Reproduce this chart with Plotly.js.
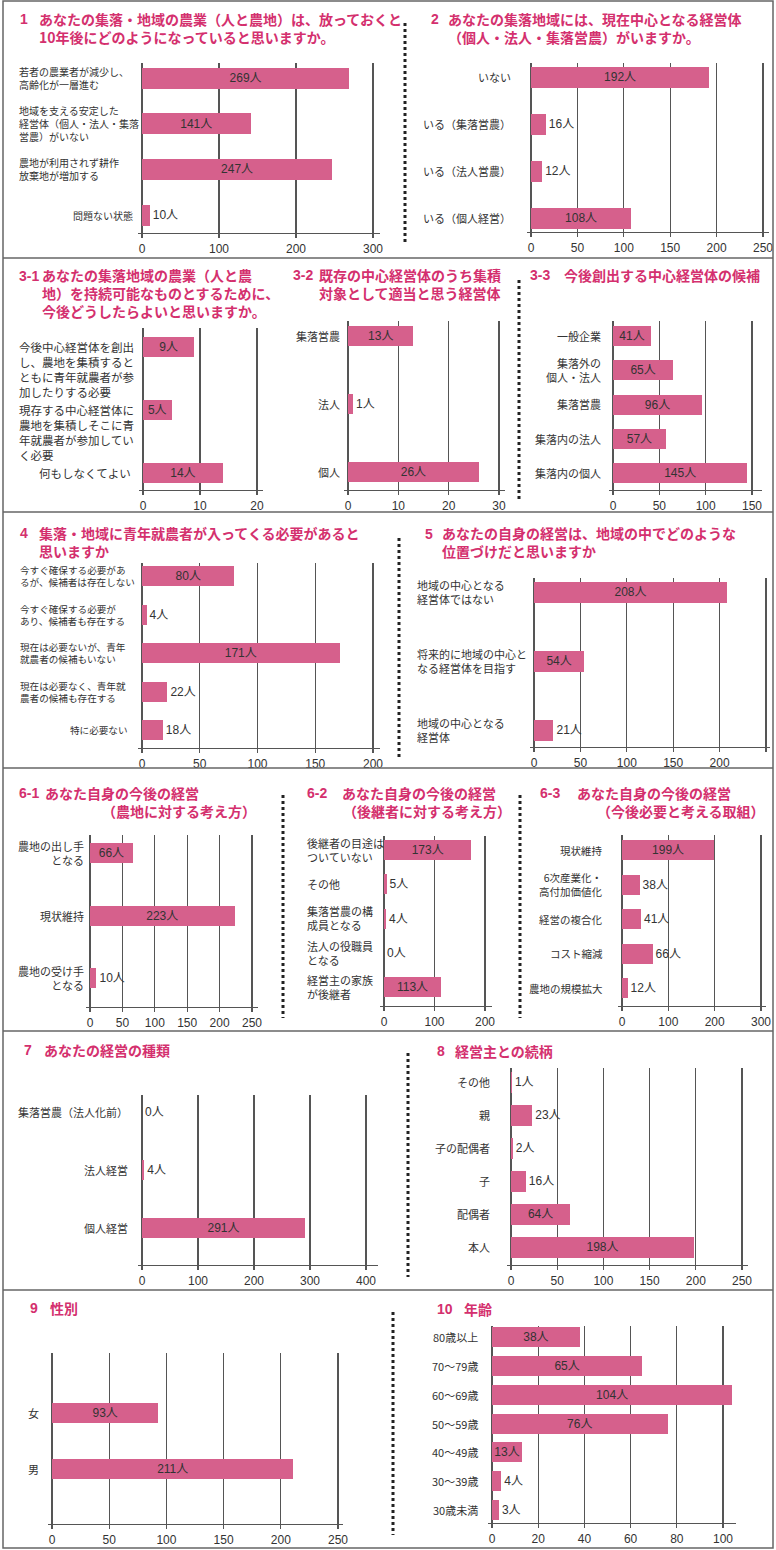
<!DOCTYPE html>
<html><head><meta charset="utf-8">
<script src="https://cdn.plot.ly/plotly-3.0.1.min.js"></script>
<style>body{margin:0;background:#fff}#chart{width:776px;height:1550px}</style>
</head><body><div id="chart"></div>
<script>
// ---------------- data ----------------
const q1Categories = ['若者の農業者が減少し、<br>高齢化が一層進む', '地域を支える安定した<br>経営体（個人・法人・集落<br>営農）がいない', '農地が利用されず耕作<br>放棄地が増加する', '問題ない状態'];
const q1Values = [269, 141, 247, 10];
const q2Categories = ['いない', 'いる（集落営農）', 'いる（法人営農）', 'いる（個人経営）'];
const q2Values = [192, 16, 12, 108];
const q31Categories = ['今後中心経営体を創出<br>し、農地を集積すると<br>ともに青年就農者が参<br>加したりする必要', '現存する中心経営体に<br>農地を集積しそこに青<br>年就農者が参加してい<br>く必要', '何もしなくてよい'];
const q31Values = [9, 5, 14];
const q32Categories = ['集落営農', '法人', '個人'];
const q32Values = [13, 1, 26];
const q33Categories = ['一般企業', '集落外の<br>個人・法人', '集落営農', '集落内の法人', '集落内の個人'];
const q33Values = [41, 65, 96, 57, 145];
const q4Categories = ['今すぐ確保する必要があ<br>るが、候補者は存在しない', '今すぐ確保する必要が<br>あり、候補者も存在する', '現在は必要ないが、青年<br>就農者の候補もいない', '現在は必要なく、青年就<br>農者の候補も存在する', '特に必要ない'];
const q4Values = [80, 4, 171, 22, 18];
const q5Categories = ['地域の中心となる<br>経営体ではない', '将来的に地域の中心と<br>なる経営体を目指す', '地域の中心となる<br>経営体'];
const q5Values = [208, 54, 21];
const q61Categories = ['農地の出し手<br>となる', '現状維持', '農地の受け手<br>となる'];
const q61Values = [66, 223, 10];
const q62Categories = ['後継者の目途は<br>ついていない', 'その他', '集落営農の構<br>成員となる', '法人の役職員<br>となる', '経営主の家族<br>が後継者'];
const q62Values = [173, 5, 4, 0, 113];
const q63Categories = ['現状維持', '6次産業化・<br>高付加価値化', '経営の複合化', 'コスト縮減', '農地の規模拡大'];
const q63Values = [199, 38, 41, 66, 12];
const q7Categories = ['集落営農（法人化前）', '法人経営', '個人経営'];
const q7Values = [0, 4, 291];
const q8Categories = ['その他', '親', '子の配偶者', '子', '配偶者', '本人'];
const q8Values = [1, 23, 2, 16, 64, 198];
const q9Categories = ['女', '男'];
const q9Values = [93, 211];
const q10Categories = ['80歳以上', '70〜79歳', '60〜69歳', '50〜59歳', '40〜49歳', '30〜39歳', '30歳未満'];
const q10Values = [38, 65, 104, 76, 13, 4, 3];
const valueUnit = '人';

// ---------------- style / layout config ----------------
const W = 776, H = 1550;
const BAR = '#d6608c', TITLE = '#d4306e', INK = '#333', GRID = '#555';
const FONT = '"Noto Sans CJK JP", "Noto Sans", sans-serif';
const NUMFONT = '"Liberation Sans", "Noto Sans CJK JP", sans-serif';
const px = x => x / W, py = y => 1 - y / H;

const panels = [
  {cats: q1Categories, vals: q1Values, inside: [1,1,1,0],
   g: {zero:142, tick:373, tmax:300, dtick:100, end:380, top:63, axisY:233, c0:78, c1:215, bar:21, lr:135, ll:17, mode:'mixed', ls:10},
   num: ['1',18,19],
   title: [['あなたの集落・地域の農業（人と農地）は、放っておくと<br>10年後にどのようになっていると思いますか。',37,28]]},
  {cats: q2Categories, vals: q2Values, inside: [1,0,0,1],
   g: {zero:531, tick:763, tmax:250, dtick:50, end:769, top:63, axisY:232, c0:77, c1:218, bar:21, lr:513, mode:'right', ls:11},
   num: ['2',429,19],
   title: [['あなたの集落地域には、現在中心となる経営体<br>（個人・法人・集落営農）がいますか。',446,28]]},
  {cats: q31Categories, vals: q31Values, inside: [1,1,1],
   g: {zero:143, tick:257, tmax:20, dtick:10, end:263, top:328, axisY:490, c0:347, c1:473, bar:20, lr:133, ll:17, mode:'mixed', ls:11.5, valign:'top'},
   num: ['3-1',17,276],
   title: [['あなたの集落地域の農業（人と農<br>地）を持続可能なものとするために、<br>今後どうしたらよいと思いますか。',40,293]]},
  {cats: q32Categories, vals: q32Values, inside: [1,0,1],
   g: {zero:348, tick:499, tmax:30, dtick:10, end:505, top:321, axisY:490, c0:336, c1:472, bar:20, lr:342, mode:'right', ls:11},
   num: ['3-2',291,275],
   title: [['既存の中心経営体のうち集積<br>対象として適当と思う経営体',317,284]]},
  {cats: q33Categories, vals: q33Values, inside: [1,1,1,1,1],
   g: {zero:613, tick:752, tmax:150, dtick:50, end:762, top:321, axisY:490, c0:336, c1:473, bar:20, lr:603, mode:'right', ls:11},
   num: ['3-3',528,275],
   title: [['今後創出する中心経営体の候補',562,275]]},
  {cats: q4Categories, vals: q4Values, inside: [1,0,1,0,0],
   g: {zero:142, tick:373, tmax:200, dtick:50, end:380, top:563, axisY:748, c0:576, c1:730, bar:20, lr:130, ll:18, mode:'mixed', ls:9.6},
   num: ['4',18,533],
   title: [['集落・地域に青年就農者が入ってくる必要があると<br>思いますか',37,542]]},
  {cats: q5Categories, vals: q5Values, inside: [1,1,0],
   g: {zero:534, tick:766, tmax:250, dtick:50, end:770, top:578, axisY:747, c0:592, c1:730, bar:21, lr:527, ll:415, mode:'left', ls:11},
   num: ['5',423,534],
   title: [['あなたの自身の経営は、地域の中でどのような<br>位置づけだと思いますか',440,542]]},
  {cats: q61Categories, vals: q61Values, inside: [1,1,0],
   g: {zero:90, tick:252, tmax:250, dtick:50, end:258, top:835, axisY:1007, c0:853, c1:978, bar:20, lr:86, mode:'right', ls:11},
   num: ['6-1',17,793],
   title: [['あなた自身の今後の経営',43,793],['（農地に対する考え方）',100,811]]},
  {cats: q62Categories, vals: q62Values, inside: [1,0,0,0,1],
   g: {zero:384, tick:485, tmax:200, dtick:100, end:492, top:836, axisY:1006, c0:850, c1:987, bar:20, ll:305, lr:378, mode:'left', ls:11},
   num: ['6-2',305,793],
   title: [['あなた自身の今後の経営',340,793],['（後継者に対する考え方）',341,811]]},
  {cats: q63Categories, vals: q63Values, inside: [1,0,0,0,0],
   g: {zero:622, tick:761, tmax:300, dtick:100, end:766, top:835, axisY:1006, c0:850, c1:988, bar:20, lr:605, mode:'right', ls:10.5},
   num: ['6-3',538,793],
   title: [['あなた自身の今後の経営',575,793],['（今後必要と考える取組）',595,811]]},
  {cats: q7Categories, vals: q7Values, inside: [0,0,1],
   g: {zero:142, tick:366, tmax:400, dtick:100, end:378, top:1095, axisY:1265, c0:1112, c1:1228, bar:20, lr:130, mode:'right', ls:11},
   num: ['7',22,1050],
   title: [['あなたの経営の種類',42,1050]]},
  {cats: q8Categories, vals: q8Values, inside: [0,0,0,0,1,1],
   g: {zero:511, tick:742, tmax:250, dtick:50, end:748, top:1068, gridTop:1093, axisY:1265, c0:1082, c1:1247, bar:21, lr:492, mode:'right', ls:11},
   num: ['8',435,1051],
   title: [['経営主との続柄',453,1051]]},
  {cats: q9Categories, vals: q9Values, inside: [1,1],
   g: {zero:52, tick:338, tmax:250, dtick:50, end:343, top:1353, axisY:1524, c0:1413, c1:1469, bar:20, lr:41, mode:'right', ls:11},
   num: ['9',28,1308],
   title: [['性別',48,1308]]},
  {cats: q10Categories, vals: q10Values, inside: [1,1,1,1,1,0,0],
   g: {zero:492, tick:723, tmax:100, dtick:20, end:736, top:1326, axisY:1523, c0:1337, c1:1510, bar:20, lr:480, mode:'right', ls:11},
   num: ['10',435,1309],
   title: [['年齢',462,1309]]}
];

// dotted separators [x, y0, y1] and solid row rules [y]
const dottedSeps = [[405,23,243],[519,280,502],[399,538,760],[283,795,1018],[520,795,1018],[408,1053,1277],[393,1312,1535]];
const rowRules = [258, 512, 768, 1031, 1290];

// ---------------- build ----------------
const traces = [], annotations = [], shapes = [];
const layout = {
  width: W, height: H, margin: {l:0, r:0, t:0, b:0},
  paper_bgcolor: '#ffffff', plot_bgcolor: 'rgba(0,0,0,0)',
  showlegend: false, font: {family: FONT, color: INK}, bargap: 0
};

panels.forEach((p, i) => {
  const k = i + 1, sfx = k === 1 ? '' : String(k);
  const g = p.g, n = p.cats.length;
  const scale = (g.tick - g.zero) / g.tmax;
  const s = (g.c1 - g.c0) / (n - 1);
  const bw = g.bar / s;
  layout['xaxis' + sfx] = {
    domain: [px(g.zero - 4), px(g.end)], range: [-4 / scale, (g.end - g.zero) / scale],
    anchor: 'y' + sfx, tickmode: 'linear', tick0: 0, dtick: g.dtick,
    showgrid: true, gridcolor: GRID, gridwidth: 1.3,
    zeroline: true, zerolinecolor: GRID, zerolinewidth: 1.3,
    showline: true, linecolor: GRID, linewidth: 1.3,
    ticks: 'outside', ticklen: 4, tickcolor: GRID, tickwidth: 1.3,
    tickfont: {family: NUMFONT, size: 12, color: INK}, fixedrange: true
  };
  layout['yaxis' + sfx] = {
    domain: [py(g.axisY), py(g.top)], type: 'category',
    range: [(n - 1) + (g.axisY - g.c1) / s, -(g.c0 - g.top) / s],
    anchor: 'x' + sfx, showgrid: false, zeroline: false, showline: false,
    showticklabels: false, ticks: '', fixedrange: true
  };
  traces.push({
    type: 'bar', orientation: 'h', x: p.vals, y: p.cats,
    xaxis: 'x' + sfx, yaxis: 'y' + sfx, width: bw,
    marker: {color: BAR, line: {width: 0}},
    text: p.vals.map(v => v + valueUnit),
    textposition: p.inside.map(f => f ? 'inside' : 'outside'),
    insidetextanchor: 'middle', constraintext: 'none', cliponaxis: false,
    textfont: {family: NUMFONT, size: 12, color: INK},
    insidetextfont: {family: NUMFONT, size: 12, color: INK},
    outsidetextfont: {family: NUMFONT, size: 12, color: INK},
    hoverinfo: 'skip'
  });
  // category labels
  p.cats.forEach((c, j) => {
    const multi = c.indexOf('<br>') >= 0;
    const left = g.mode === 'left' || (g.mode === 'mixed' && multi);
    const top = g.valign === 'top';
    annotations.push({
      xref: 'paper', yref: 'y' + sfx, x: left ? px(g.ll) : px(g.lr), xanchor: left ? 'left' : 'right',
      y: top ? j - bw / 2 : j, yanchor: top ? 'top' : 'middle',
      text: c, showarrow: false, align: left ? 'left' : 'right',
      font: {family: FONT, size: g.ls, color: INK}
    });
  });
  // titles
  annotations.push({
    xref: 'paper', yref: 'paper', x: px(p.num[1]), y: py(p.num[2]), xanchor: 'left', yanchor: 'middle',
    text: '<b>' + p.num[0] + '</b>', showarrow: false,
    font: {family: NUMFONT, size: 14, color: TITLE}
  });
  p.title.forEach(t => {
    annotations.push({
      xref: 'paper', yref: 'paper', x: px(t[1]), y: py(t[2]), xanchor: 'left', yanchor: 'middle',
      text: '<b>' + t[0] + '</b>', showarrow: false, align: 'left',
      font: {family: FONT, size: 14, color: TITLE}
    });
  });
  // mask gridlines above first row where the original leaves them out
  if (g.gridTop) {
    shapes.push({type: 'rect', layer: 'between', xref: 'paper', yref: 'paper',
      x0: px(g.zero + 1.5), x1: px(g.end + 1), y0: py(g.gridTop), y1: py(g.top - 1),
      fillcolor: '#ffffff', line: {width: 0}});
  }
});

dottedSeps.forEach(d => shapes.push({type: 'line', xref: 'paper', yref: 'paper',
  x0: px(d[0]), x1: px(d[0]), y0: py(d[1]), y1: py(d[2]), line: {color: '#222', width: 3, dash: 'dot'}}));
rowRules.forEach(y => shapes.push({type: 'line', xref: 'paper', yref: 'paper',
  x0: px(3), x1: px(773), y0: py(y), y1: py(y), line: {color: '#666', width: 1.5}}));
shapes.push({type: 'rect', xref: 'paper', yref: 'paper', x0: px(3), x1: px(773), y0: py(1548), y1: py(1),
  line: {color: '#666', width: 1.5}, fillcolor: 'rgba(0,0,0,0)'});

layout.annotations = annotations;
layout.shapes = shapes;
Plotly.newPlot('chart', traces, layout, {staticPlot: true, displayModeBar: false});
</script></body></html>
